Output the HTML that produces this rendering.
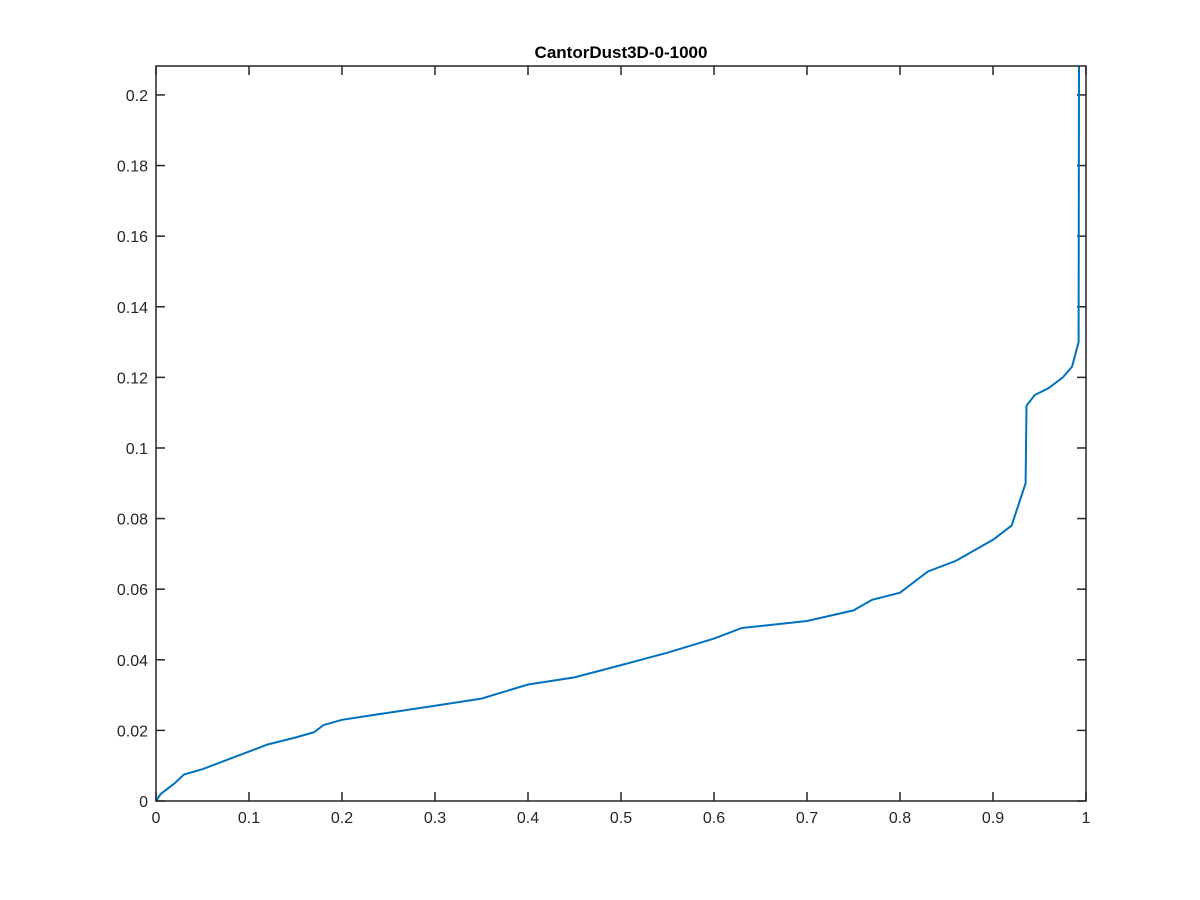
<!DOCTYPE html>
<html><head><meta charset="utf-8"><style>
body{margin:0;background:#fff;}
svg{display:block;font-family:"Liberation Sans",Helvetica,sans-serif;}
</style></head><body>
<svg id="chart" width="1200" height="900" xmlns="http://www.w3.org/2000/svg">
<rect width="1200" height="900" fill="#fff"/>
<text x="621" y="58" text-anchor="middle" font-size="17" font-weight="bold" fill="#000">CantorDust3D-0-1000</text>
<g id="ticks"></g>
<path id="curve" fill="none" stroke="#0072bd" stroke-width="2"/>
<rect x="156" y="66" width="930" height="735" fill="none" stroke="#262626" stroke-width="1.5"/>
</svg>
<script>
const xTicks=[0,0.1,0.2,0.3,0.4,0.5,0.6,0.7,0.8,0.9,1];
const xTickLabels=["0","0.1","0.2","0.3","0.4","0.5","0.6","0.7","0.8","0.9","1"];
const yTicks=[0,0.02,0.04,0.06,0.08,0.1,0.12,0.14,0.16,0.18,0.2];
const yTickLabels=["0","0.02","0.04","0.06","0.08","0.1","0.12","0.14","0.16","0.18","0.2"];
const xs=[0,0.005,0.01,0.02,0.03,0.05,0.08,0.1,0.12,0.15,0.17,0.18,0.2,0.25,0.3,0.35,0.4,0.45,0.5,0.55,0.6,0.63,0.7,0.75,0.77,0.8,0.83,0.86,0.9,0.92,0.93,0.935,0.936,0.945,0.96,0.975,0.985,0.992,0.9925];
const ys=[0,0.002,0.003,0.005,0.0075,0.009,0.012,0.014,0.016,0.018,0.0195,0.0215,0.023,0.025,0.027,0.029,0.033,0.035,0.0385,0.042,0.046,0.049,0.051,0.054,0.057,0.059,0.065,0.068,0.074,0.078,0.086,0.09,0.112,0.115,0.117,0.12,0.123,0.13,0.21];
const X0=156,X1=1086,Y0=801,Y1=66,YMAX=0.2082;
const sx=v=>X0+v*(X1-X0);
const sy=v=>Math.max(Y1,Y0-v/YMAX*(Y0-Y1));
const NS="http://www.w3.org/2000/svg";
const g=document.getElementById('ticks');
function mk(t,a){const e=document.createElementNS(NS,t);for(const k in a)e.setAttribute(k,a[k]);return e;}
xTicks.forEach((v,i)=>{
  const x=sx(v);
  const l1=mk('line',{x1:x,x2:x,y1:Y0,y2:Y0-9,stroke:'#262626','stroke-width':1.5});
  
  
  g.appendChild(l1);
  const l2=mk('line',{x1:x,x2:x,y1:Y1,y2:Y1+9,stroke:'#262626','stroke-width':1.5});
  
  
  g.appendChild(l2);
  const t=mk('text',{x:x,y:Y0+22,'text-anchor':'middle','font-size':16,fill:'#262626'});
  t.textContent=xTickLabels[i];
  
  
  g.appendChild(t);
});
yTicks.forEach((v,i)=>{
  const y=sy(v);
  const l1=mk('line',{x1:X0,x2:X0+9,y1:y,y2:y,stroke:'#262626','stroke-width':1.5});
  
  
  g.appendChild(l1);
  const l2=mk('line',{x1:X1,x2:X1-9,y1:y,y2:y,stroke:'#262626','stroke-width':1.5});
  
  
  g.appendChild(l2);
  const t=mk('text',{x:X0-8,y:y+6,'text-anchor':'end','font-size':16,fill:'#262626'});
  t.textContent=yTickLabels[i];
  
  
  g.appendChild(t);
});
document.getElementById('curve').setAttribute('d',xs.map((v,i)=>(i?'L':'M')+sx(v).toFixed(1)+' '+sy(ys[i]).toFixed(1)).join(' '));
</script>
</body></html>
